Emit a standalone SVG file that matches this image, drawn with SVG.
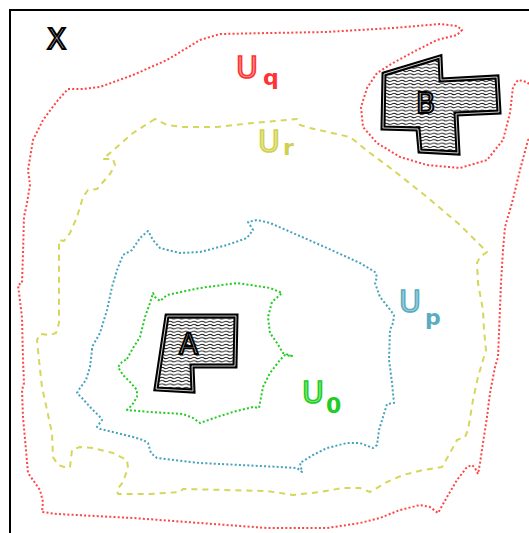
<svg xmlns="http://www.w3.org/2000/svg" width="529" height="533" viewBox="0 0 529 533">
  <defs>
    <pattern id="waves" patternUnits="userSpaceOnUse" width="8" height="3.3">
      <path d="M0,1.65 Q2,0.4 4,1.65 T8,1.65" fill="none" stroke="#000" stroke-width="0.85"/>
    </pattern>
    <style>
      .frame { fill: none; stroke: #000; stroke-width: 2; }
      .set { fill: none; stroke-width: 2; stroke-linejoin: round; stroke-linecap: butt; }
      .uq { stroke: #f44; stroke-dasharray: 2 2.2; }
      .ur { stroke: #d6d65a; stroke-dasharray: 6 5; }
      .up { stroke: #44a2bd; stroke-dasharray: 2 2.2; }
      .u0 { stroke: #2c2; stroke-dasharray: 2 2.2; }
      .body { fill: url(#waves); stroke: #000; stroke-width: 5; stroke-linejoin: miter; }
      .bodyline { fill: none; stroke: #fff; stroke-width: 0.8; }
      .big { font-family: "DejaVu Sans", sans-serif; font-size: 30px; stroke-width: 1.6; }
      .sub { font-family: "DejaVu Sans", sans-serif; font-size: 22px; font-weight: bold; }
      .name { font-family: "DejaVu Sans", sans-serif; font-size: 28px; fill: #fff; stroke: #000; stroke-width: 2; }
    </style>
  </defs>

  <!-- space boundary -->
  <path class="frame" d="M10,533 V10 H529"/>
  <text class="name" x="47" y="49" font-size="30">X</text>

  <!-- neighbourhood boundaries -->
  <g id="connectors">
    <polyline id="set-uq" class="set uq" points="535,90 527,82 518,80 513,87 510,113 503,140 487,160 460,168 427,165 400,157 377,143 363,127 361,107 367,88 377,73 393,63 417,50 437,40 457,35 462,30 457,26 440,24 393,28 327,32 270,33 220,34 200,40 167,60 133,75 100,87 83,89 68,89 58,100 43,120 33,140 28,170 30,185 27,203 24,217 23,253 22,283 18,285 22,317 23,360 24,383 22,390 23,417 26,450 28,473 33,480 40,490 43,502 42,512 57,514 133,518 200,523 267,528 327,528 360,523 380,518 400,510 420,505 430,507 438,513 447,497 457,480 467,467 472,465 475,468 478,474 480,463 483,443 487,417 490,393 495,367 498,357 499,333 501,283 503,250 505,227 512,203 520,170 528,140 535,135"/>
    <polygon id="set-ur" class="set ur" points="155,119 133,133 103,159 113,159 115,165 110,174 97,189 88,190 83,197 77,217 70,233 64,241 59,240 59,270 59,323 56,333 50,335 40,334 37,340 39,360 42,387 47,410 52,433 53,457 58,465 67,468 70,467 72,450 80,447 93,448 113,453 127,460 128,468 123,482 117,490 118,494 150,494 180,492 183,489 267,491 293,495 320,492 343,488 360,488 370,492 387,482 403,475 423,470 437,468 442,467 450,453 457,440 465,437 468,430 473,400 478,377 486,350 484,330 483,310 478,283 477,263 480,257 487,252 460,225 427,197 393,170 370,153 350,137 310,128 300,125 297,119 253,123 217,127 183,127 167,125"/>
    <polygon id="set-up" class="set up" points="92,350 92,347 100,333 107,310 112,287 117,270 123,255 132,250 140,238 148,231 153,240 160,248 180,253 200,252 227,245 247,238 253,230 248,222 257,220 270,223 293,233 327,248 360,263 375,272 377,277 375,283 380,297 388,307 394,315 393,323 390,330 389,360 390,367 392,383 394,403 387,404 383,417 379,430 377,445 373,448 360,443 347,443 327,448 313,455 300,463 302,472 297,468 280,467 260,466 200,463 157,458 151,453 148,443 143,440 133,437 113,432 100,429 97,427 102,420 100,417 90,407 82,398 77,393 80,388 86,380 90,367"/>
    <polygon id="set-u0" class="set u0" points="127,359 133,348 140,337 145,317 150,303 153,293 155,297 160,301 167,295 200,288 237,283 270,288 282,293 272,302 268,317 270,333 277,343 283,353 292,356 285,355 280,360 270,373 263,387 259,408 253,407 233,412 217,417 200,423 193,418 183,414 150,412 127,410 132,405 137,397 137,390 130,382 123,375 118,367 122,362"/>
  </g>

  <!-- compact set A -->
  <g id="node-a">
    <polygon class="body" points="167,316 236,316 235,366 192,366 193,391 156,389"/>
    <polygon class="bodyline" points="167,316 236,316 235,366 192,366 193,391 156,389"/>
    <text class="name" x="179" y="354">A</text>
  </g>

  <!-- closed set B -->
  <g id="node-b">
    <polygon class="body" points="384,74 440,57 441,80 497,77 499,112 456,114 458,153 420,151 418,129 383,128"/>
    <polygon class="bodyline" points="384,74 440,57 441,80 497,77 499,112 456,114 458,153 420,151 418,129 383,128"/>
    <text class="name" x="416" y="113">B</text>
  </g>

  <!-- neighbourhood labels -->
  <g id="label-uq">
    <text class="big" x="236" y="78" fill="#f99" stroke="#f33">U</text>
    <text class="sub" x="263" y="85" fill="#f33">q</text>
  </g>
  <g id="label-ur">
    <text class="big" x="258" y="152" fill="#ecec9a" stroke="#d0d050">U</text>
    <text class="sub" x="283" y="155" fill="#d0d050">r</text>
  </g>
  <g id="label-up">
    <text class="big" x="399" y="312" fill="#a8d4df" stroke="#5aacc0">U</text>
    <text class="sub" x="425" y="325" fill="#5aacc0">p</text>
  </g>
  <g id="label-u0">
    <text class="big" x="302" y="403" fill="#8e8" stroke="#2c2">U</text>
    <text class="sub" x="326" y="413" fill="#2c2">0</text>
  </g>
</svg>
